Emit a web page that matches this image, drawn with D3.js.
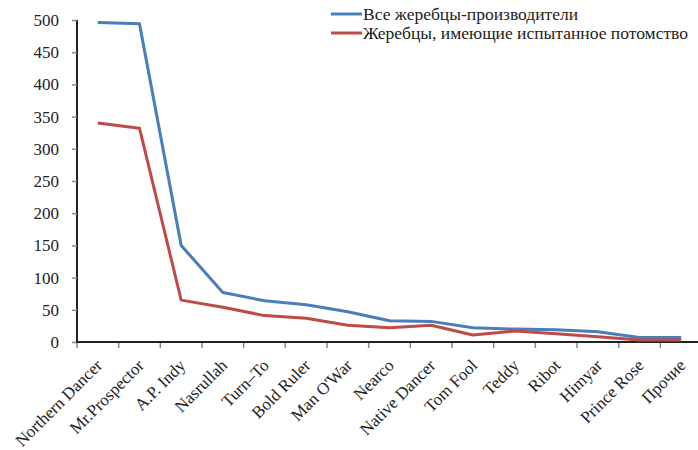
<!DOCTYPE html>
<html>
<head>
<meta charset="utf-8">
<script src="https://cdn.jsdelivr.net/npm/d3@7"></script>
<style>
  body { margin: 0; background: #fff; }
  svg { display: block; }
  svg text { font-family: "Liberation Serif", "Times New Roman", serif; }
</style>
</head>
<body>
<svg id="chart" width="698" height="450"></svg>
<script>
// categories and series
var categories = ["Northern Dancer", "Mr.Prospector", "A.P. Indy", "Nasrullah", "Turn\u2013To",
  "Bold Ruler", "Man O'War", "Nearco", "Native Dancer", "Tom Fool", "Teddy", "Ribot",
  "Himyar", "Prince Rose", "\u041f\u0440\u043e\u0447\u0438\u0435"];
var allSires = [496, 494, 150, 77, 64, 58, 47, 33, 32, 22, 20, 19, 16, 7, 7];
var provenSires = [340, 332, 65, 54, 41, 37, 26, 22, 26, 11, 17, 13, 8, 3, 3];
var seriesNames = ["\u0412\u0441\u0435 \u0436\u0435\u0440\u0435\u0431\u0446\u044b-\u043f\u0440\u043e\u0438\u0437\u0432\u043e\u0434\u0438\u0442\u0435\u043b\u0438",
  "\u0416\u0435\u0440\u0435\u0431\u0446\u044b, \u0438\u043c\u0435\u044e\u0449\u0438\u0435 \u0438\u0441\u043f\u044b\u0442\u0430\u043d\u043d\u043e\u0435 \u043f\u043e\u0442\u043e\u043c\u0441\u0442\u0432\u043e"];
var yTicks = [0, 50, 100, 150, 200, 250, 300, 350, 400, 450, 500];
var colors = ["#4a7ebb", "#be4b48"];
var serif = "'Liberation Serif', 'Times New Roman', serif";

var svg = d3.select("#chart");
var plotL = 77, plotR = 702, plotT = 20, plotB = 342;

var x = d3.scaleBand().domain(categories).range([plotL, plotR]);
var y = d3.scaleLinear().domain([0, 500]).range([plotB, plotT]);

// y axis
var yAxis = svg.append("g")
  .attr("transform", "translate(" + plotL + ",0)")
  .call(d3.axisLeft(y).tickValues(yTicks).tickSize(5).tickPadding(13));
yAxis.attr("font-family", serif).attr("font-size", 17);
yAxis.select(".domain").attr("stroke", "#222").attr("stroke-width", 2)
  .attr("d", "M0," + plotT + "V" + plotB);
yAxis.selectAll(".tick line").attr("stroke", "#888").attr("stroke-width", 1.5);
yAxis.selectAll("text").attr("fill", "#222").attr("dy", "0.32em");

// x axis: ticks sit on category boundaries
var xAxis = svg.append("g").attr("transform", "translate(0," + plotB + ")")
  .attr("font-family", serif);
xAxis.append("line")
  .attr("x1", plotL - 1).attr("x2", plotR)
  .attr("stroke", "#222").attr("stroke-width", 2);
xAxis.selectAll(".xt").data(categories).enter().append("line")
  .attr("class", "xt")
  .attr("x1", function(d) { return x(d); })
  .attr("x2", function(d) { return x(d); })
  .attr("y1", 1).attr("y2", 6)
  .attr("stroke", "#888").attr("stroke-width", 1.5);
xAxis.selectAll(".xl").data(categories).enter().append("text")
  .attr("class", "xl")
  .attr("transform", function(d) {
    return "translate(" + (x(d) + x.bandwidth() / 2 - 3) + ",16) rotate(-45)";
  })
  .attr("text-anchor", "end")
  .attr("dy", "0.7em")
  .attr("font-size", 17)
  .attr("fill", "#222")
  .text(function(d) { return d; });

// lines
var line = d3.line()
  .x(function(d, i) { return x(categories[i]) + x.bandwidth() / 2; })
  .y(function(d) { return y(d); });

[allSires, provenSires].forEach(function(s, i) {
  svg.append("path")
    .datum(s)
    .attr("d", line)
    .attr("fill", "none")
    .attr("stroke", colors[i])
    .attr("stroke-width", 3)
    .attr("stroke-linejoin", "round");
});

// legend
var legend = svg.append("g").attr("transform", "translate(331,14)")
  .attr("font-family", serif);
seriesNames.forEach(function(name, i) {
  var g = legend.append("g").attr("transform", "translate(0," + (i * 19) + ")");
  g.append("line").attr("x1", 0).attr("x2", 31)
    .attr("stroke", colors[i]).attr("stroke-width", 3);
  g.append("text").attr("x", 32).attr("dy", "0.33em")
    .attr("font-size", 17.5).attr("fill", "#222").text(name);
});
</script>
</body>
</html>
